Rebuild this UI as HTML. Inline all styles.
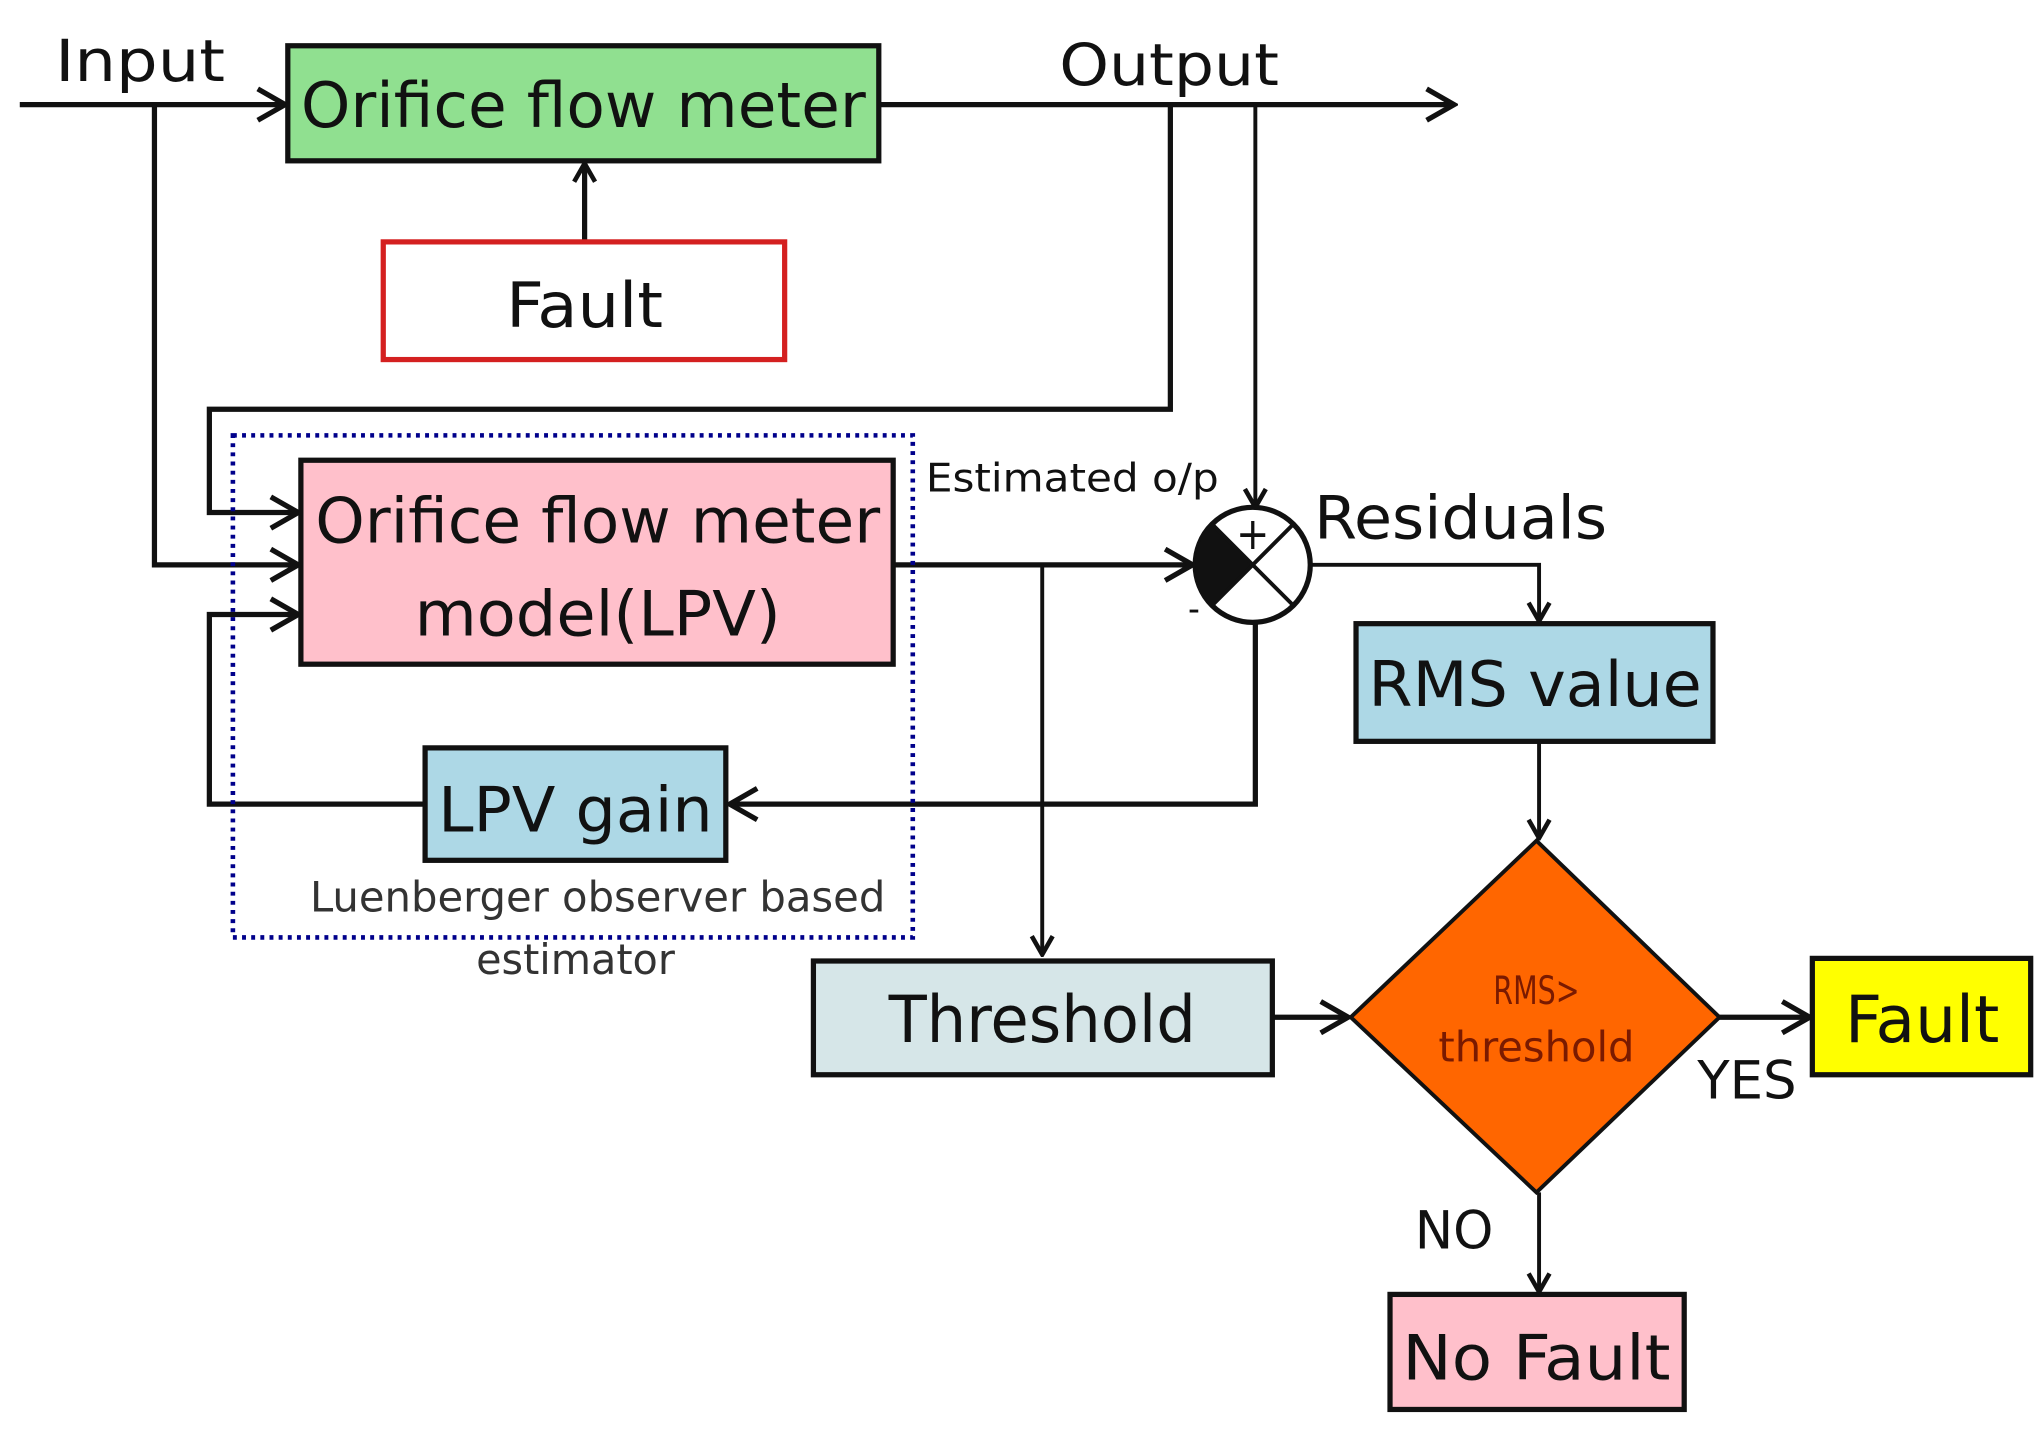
<!DOCTYPE html>
<html><head><meta charset="utf-8"><style>
html,body{margin:0;padding:0;background:#fff}
svg{display:block}
text{font-family:"DejaVu Sans Condensed","DejaVu Sans","Liberation Sans",sans-serif;fill:#111}
</style></head><body>
<svg width="2040" height="1433" viewBox="0 0 1560 1096" xmlns="http://www.w3.org/2000/svg">
<defs>
<marker id="a" viewBox="0 0 20 20" refX="18" refY="10" markerWidth="20" markerHeight="20" markerUnits="userSpaceOnUse" orient="auto">
<path d="M4,2 L18,10 L4,18" fill="none" stroke="#111" stroke-width="3.5"/>
</marker>
<marker id="b" viewBox="0 0 30 30" refX="27" refY="15" markerWidth="30" markerHeight="30" markerUnits="userSpaceOnUse" orient="auto">
<path d="M6,3 L27,15 L6,27" fill="none" stroke="#111" stroke-width="4"/>
</marker>
</defs>
<g fill="none" stroke="#111" stroke-width="4">
<path d="M15,80 H218" marker-end="url(#b)"/>
<path d="M118,80 V432 H228" marker-end="url(#b)"/>
<path d="M672,80 H1112" marker-end="url(#b)"/>
<path d="M895,80 V313 H160 V392 H228" marker-end="url(#b)"/>
<path d="M960,80 V388" stroke-width="3" marker-end="url(#a)"/>
<path d="M447,185 V125" marker-end="url(#a)"/>
<path d="M325,615 H160 V470 H228" marker-end="url(#b)"/>
<path d="M683,432 H912" marker-end="url(#b)"/>
<path d="M797,432 V730" stroke-width="3" marker-end="url(#a)"/>
<path d="M960,476 V615 H558" marker-end="url(#b)"/>
<path d="M1002,432 H1177 V475" stroke-width="3" marker-end="url(#a)"/>
<path d="M1177,567 V641" stroke-width="3" marker-end="url(#a)"/>
<path d="M973,778 H1031" marker-end="url(#b)"/>
<path d="M1315,778 H1384" marker-end="url(#b)"/>
<path d="M1177,912 V988" stroke-width="3" marker-end="url(#a)"/>
</g>
<rect x="178" y="333" width="520" height="384" fill="none" stroke="#00008b" stroke-width="3.5" stroke-dasharray="3,4"/>
<rect x="220" y="35" width="452" height="88" fill="#90e090" stroke="#111" stroke-width="4"/>
<rect x="293" y="185" width="307" height="90" fill="#fff" stroke="#d42020" stroke-width="4"/>
<rect x="230" y="352" width="453" height="156" fill="#ffc0cb" stroke="#111" stroke-width="4"/>
<rect x="325" y="572" width="230" height="86" fill="#add8e6" stroke="#111" stroke-width="4"/>
<rect x="1037" y="477" width="273" height="90" fill="#add8e6" stroke="#111" stroke-width="4"/>
<rect x="622" y="735" width="351" height="87" fill="#d6e6e8" stroke="#111" stroke-width="4"/>
<rect x="1386" y="733" width="167" height="89" fill="#ffff00" stroke="#111" stroke-width="4"/>
<rect x="1063" y="990" width="225" height="88" fill="#ffc0cb" stroke="#111" stroke-width="4"/>
<polygon points="1175,643 1315,778 1175,912 1033,778" fill="#ff6600" stroke="#111" stroke-width="3"/>
<circle cx="958" cy="432" r="44" fill="#fff" stroke="#111" stroke-width="4"/>
<path d="M958,432 L926.9,400.9 A44,44 0 0 0 926.9,463.1 Z" fill="#111"/>
<path d="M926.9,400.9 L989.1,463.1 M989.1,400.9 L926.9,463.1" stroke="#111" stroke-width="3"/>
<text x="958" y="420" font-size="34" text-anchor="middle">+</text>
<text x="913" y="475" font-size="28" text-anchor="middle">-</text>
<text x="42" y="62" font-size="44" textLength="130" lengthAdjust="spacingAndGlyphs">Input</text>
<text x="810" y="65" font-size="44" textLength="168" lengthAdjust="spacingAndGlyphs">Output</text>
<text x="446" y="97" font-size="48" text-anchor="middle" textLength="432" lengthAdjust="spacingAndGlyphs">Orifice flow meter</text>
<text x="447" y="250" font-size="48" text-anchor="middle" textLength="120" lengthAdjust="spacingAndGlyphs">Fault</text>
<text x="457" y="415" font-size="48" text-anchor="middle" textLength="432" lengthAdjust="spacingAndGlyphs">Orifice flow meter</text>
<text x="457" y="486" font-size="48" text-anchor="middle" textLength="280" lengthAdjust="spacingAndGlyphs">model(LPV)</text>
<text x="440" y="636" font-size="48" text-anchor="middle" textLength="210" lengthAdjust="spacingAndGlyphs">LPV gain</text>
<text x="708" y="376" font-size="30" textLength="224" lengthAdjust="spacingAndGlyphs">Estimated o/p</text>
<text x="1005" y="412" font-size="46" textLength="224" lengthAdjust="spacingAndGlyphs">Residuals</text>
<text x="1174" y="540" font-size="48" text-anchor="middle" textLength="255" lengthAdjust="spacingAndGlyphs">RMS value</text>
<text x="797" y="797" font-size="50" text-anchor="middle" textLength="235" lengthAdjust="spacingAndGlyphs">Threshold</text>
<text x="1470" y="797" font-size="50" text-anchor="middle" textLength="118" lengthAdjust="spacingAndGlyphs">Fault</text>
<text x="1175" y="1055" font-size="48" text-anchor="middle" textLength="205" lengthAdjust="spacingAndGlyphs">No Fault</text>
<text x="1175" y="768" font-size="30" text-anchor="middle" style="fill:#7a1a00;font-family:'DejaVu Sans','Liberation Sans',sans-serif" textLength="66" lengthAdjust="spacingAndGlyphs">RMS&gt;</text>
<text x="1175" y="812" font-size="32" text-anchor="middle" style="fill:#7a1a00" textLength="150" lengthAdjust="spacingAndGlyphs">threshold</text>
<text x="1298" y="840" font-size="40" textLength="76" lengthAdjust="spacingAndGlyphs">YES</text>
<text x="1082" y="955" font-size="40" textLength="60" lengthAdjust="spacingAndGlyphs">NO</text>
<text x="457" y="697" font-size="32" text-anchor="middle" style="fill:#333" textLength="440" lengthAdjust="spacingAndGlyphs">Luenberger observer based</text>
<text x="440" y="745" font-size="32" text-anchor="middle" style="fill:#333" textLength="152" lengthAdjust="spacingAndGlyphs">estimator</text>
</svg>
</body></html>
